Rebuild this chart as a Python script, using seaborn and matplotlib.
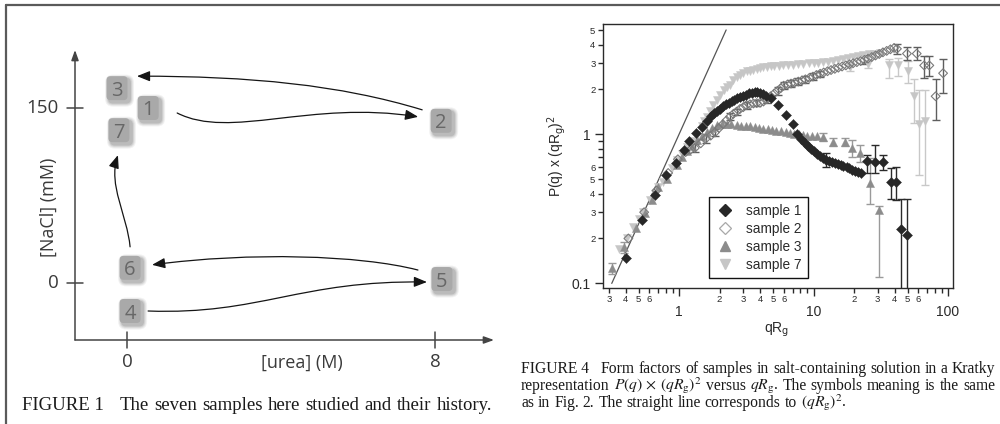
import numpy as np
import matplotlib
matplotlib.use("Agg")
import matplotlib.pyplot as plt
import seaborn as sns
from matplotlib.patches import FancyBboxPatch, FancyArrowPatch
from matplotlib.path import Path
from matplotlib.lines import Line2D
from matplotlib.ticker import LogLocator, FuncFormatter

# ---------------- data : FIGURE 1 (sample history diagram) ----------------
sample_ids = ["3", "1", "7", "2", "6", "5", "4"]
urea_M = [-0.26, 0.55, -0.21, 8.16, 0.08, 8.18, 0.08]
nacl_mM = [167, 150, 131, 139, 13, 3.4, -24]
history = [("2", "3"), ("1", "2"), ("6", "7"), ("5", "6"), ("4", "5")]
urea_ticks = [0, 8]
nacl_ticks = [0, 150]

# ---------------- data : FIGURE 4 (Kratky plot) ----------------
s1_x = [0.40, 0.53, 0.66, 0.80, 0.95, 1.08, 1.19, 1.34, 1.47, 1.61, 1.72, 1.82, 1.92, 2.02, 2.12,
        2.23, 2.34, 2.46, 2.58, 2.71, 2.85, 2.99, 3.14, 3.30, 3.47, 3.64, 3.82, 4.01, 4.21, 4.45,
        4.80, 5.47, 6.24, 7.00, 7.50, 8.10, 8.60, 9.10, 9.60, 10.1, 10.6, 11.2, 11.8, 12.4, 13.0,
        13.7, 14.4, 15.1, 15.9, 16.7, 17.6, 18.5, 19.4, 20.4, 21.4, 22.4, 24.9, 28.6, 33.0, 37.5,
        41.0, 44.6, 49.5]
s1_y = [0.149, 0.265, 0.39, 0.53, 0.645, 0.78, 0.90, 1.02, 1.12, 1.23, 1.33, 1.39, 1.44, 1.49, 1.54,
        1.59, 1.63, 1.67, 1.71, 1.75, 1.79, 1.82, 1.85, 1.88, 1.90, 1.91, 1.91, 1.89, 1.86, 1.82,
        1.74, 1.57, 1.35, 1.17, 1.00, 0.93, 0.88, 0.84, 0.80, 0.77, 0.74, 0.71, 0.69, 0.67, 0.66,
        0.65, 0.64, 0.63, 0.62, 0.61, 0.60, 0.59, 0.58, 0.57, 0.56, 0.55, 0.66, 0.65, 0.65, 0.48,
        0.48, 0.23, 0.21]
s1_err_x = [12.4, 24.9, 28.6, 33.0, 37.5, 41.0, 44.6, 49.5]
s1_err_y = [0.67, 0.66, 0.65, 0.65, 0.48, 0.48, 0.23, 0.21]
s1_err_lo = [0.60, 0.547, 0.547, 0.58, 0.37, 0.36, 0.08, 0.08]
s1_err_hi = [0.75, 0.726, 0.85, 0.73, 0.59, 0.60, 0.37, 0.37]

s2_x = [0.42, 0.55, 0.68, 0.83, 0.98, 1.12, 1.22, 1.31, 1.45, 1.59, 1.72, 1.85, 1.98, 2.12, 2.25,
        2.39, 2.53, 2.68, 2.84, 3.0, 3.18, 3.37, 3.57, 3.78, 4.0, 4.24, 4.5, 4.8, 5.1, 5.4,
        5.7, 6.0, 6.4, 6.8, 7.2, 7.7, 8.2, 8.7, 9.3, 9.9, 10.5, 11.2, 11.9, 12.7, 13.5,
        14.4, 15.3, 16.3, 17.4, 18.5, 19.7, 21.0, 22.4, 23.9, 25.4, 27.1, 28.9, 30.8, 32.8, 35.0,
        37.3, 39.7, 41.7, 49.5, 58.5, 66.5, 72.6, 80.9, 91.9]
s2_y = [0.20, 0.30, 0.42, 0.55, 0.68, 0.76, 0.79, 0.81, 0.87, 0.94, 0.98, 1.03, 1.10, 1.17, 1.24,
        1.31, 1.37, 1.42, 1.48, 1.52, 1.57, 1.59, 1.61, 1.62, 1.63, 1.66, 1.72, 1.80, 1.88, 1.96,
        2.04, 2.12, 2.16, 2.19, 2.22, 2.26, 2.30, 2.34, 2.39, 2.44, 2.50, 2.55, 2.60, 2.65, 2.70,
        2.75, 2.80, 2.85, 2.90, 2.95, 3.00, 3.05, 3.10, 3.16, 3.22, 3.30, 3.38, 3.46, 3.55, 3.63,
        3.72, 3.80, 3.75, 3.48, 3.48, 2.90, 2.90, 1.80, 2.57]
s2_err_x = [1.31, 1.59, 1.85, 2.39, 2.68, 3.18, 3.78, 4.5, 5.4, 6.0, 6.8, 7.7, 8.7, 9.9, 11.2,
            23.9, 41.7, 49.5, 58.5, 66.5, 72.6, 80.9, 91.9]
s2_err_y = [0.81, 0.94, 1.03, 1.31, 1.42, 1.57, 1.62, 1.72, 1.96, 2.12, 2.19, 2.26, 2.34, 2.44, 2.55,
            3.16, 3.75, 3.48, 3.48, 2.90, 2.90, 1.80, 2.57]
s2_err_lo = [0.76, 0.88, 0.97, 1.24, 1.35, 1.49, 1.54, 1.63, 1.85, 2.0, 2.07, 2.14, 2.22, 2.32, 2.43,
             2.95, 3.45, 3.16, 3.16, 2.40, 2.45, 1.25, 1.90]
s2_err_hi = [0.86, 1.00, 1.09, 1.38, 1.49, 1.65, 1.70, 1.81, 2.07, 2.24, 2.31, 2.38, 2.46, 2.56, 2.67,
             3.40, 4.05, 3.87, 3.87, 3.35, 3.35, 2.36, 3.20]

s3_x = [0.316, 0.39, 0.48, 0.56, 0.627, 0.70, 0.81, 0.96, 1.05, 1.14, 1.24, 1.35, 1.47, 1.61, 1.75,
        1.91, 2.08, 2.26, 2.45, 2.68, 2.90, 3.12, 3.37, 3.65, 3.95, 4.24, 4.60, 4.95, 5.30, 5.70,
        6.20, 6.70, 7.20, 7.80, 8.40, 9.00, 9.70, 10.6, 11.8, 14.0, 17.2, 19.2, 22.2, 26.3, 30.8]
s3_y = [0.126, 0.176, 0.234, 0.297, 0.36, 0.445, 0.50, 0.62, 0.70, 0.77, 0.84, 0.91, 0.98, 1.04, 1.10,
        1.15, 1.17, 1.18, 1.17, 1.15, 1.14, 1.13, 1.13, 1.12, 1.10, 1.09, 1.08, 1.07, 1.06, 1.05,
        1.04, 1.02, 1.01, 1.00, 0.99, 0.98, 0.98, 0.97, 0.96, 0.89, 0.89, 0.81, 0.75, 0.47, 0.31]
s3_err_x = [0.316, 0.39, 11.8, 14.0, 17.2, 19.2, 22.2, 26.3, 30.8]
s3_err_y = [0.126, 0.176, 0.96, 0.89, 0.89, 0.81, 0.75, 0.47, 0.31]
s3_err_lo = [0.115, 0.16, 0.90, 0.83, 0.83, 0.70, 0.65, 0.34, 0.11]
s3_err_hi = [0.136, 0.19, 1.02, 0.95, 0.95, 0.92, 0.85, 0.69, 0.33]

s7_x = [0.36, 0.41, 0.458, 0.50, 0.543, 0.61, 0.66, 0.70, 0.76, 0.81, 0.88, 0.96, 1.05, 1.14, 1.24,
        1.35, 1.47, 1.54, 1.61, 1.70, 1.80, 1.91, 2.02, 2.15, 2.26, 2.39, 2.53, 2.68, 2.84, 3.00,
        3.20, 3.37, 3.57, 3.80, 4.00, 4.24, 4.50, 4.80, 5.10, 5.50, 5.97, 6.50, 7.00, 7.60, 8.40,
        9.20, 10.0, 10.8, 11.8, 12.8, 14.0, 15.2, 16.6, 18.0, 18.7, 19.6, 21.4, 23.5, 25.2, 25.8,
        28.3, 31.2, 36.3, 42.7, 50.0, 55.8, 61.0, 67.5]
s7_y = [0.17, 0.20, 0.24, 0.27, 0.30, 0.36, 0.40, 0.445, 0.48, 0.52, 0.59, 0.67, 0.74, 0.82, 0.90,
        0.99, 1.14, 1.22, 1.31, 1.44, 1.57, 1.70, 1.83, 1.98, 2.07, 2.15, 2.30, 2.43, 2.52, 2.58,
        2.64, 2.68, 2.72, 2.76, 2.80, 2.82, 2.85, 2.86, 2.87, 2.88, 2.90, 2.92, 2.93, 2.95, 2.97,
        2.99, 3.00, 3.02, 3.05, 3.08, 3.12, 3.15, 3.20, 3.25, 2.85, 3.30, 3.35, 3.40, 2.97, 3.45,
        3.48, 3.50, 2.90, 2.90, 2.68, 1.80, 1.18, 1.22]
s7_err_x = [18.7, 25.2, 36.3, 42.7, 50.0, 55.8, 61.0, 67.5]
s7_err_y = [2.85, 2.97, 2.90, 2.90, 2.68, 1.80, 1.18, 1.22]
s7_err_lo = [2.65, 2.80, 2.40, 2.45, 2.20, 1.20, 0.53, 0.46]
s7_err_hi = [3.05, 3.15, 3.20, 3.25, 3.10, 2.35, 1.98, 1.98]

guinier_x = [0.316, 2.24]           # straight line (qRg)^2
legend_labels = ["sample 1", "sample 2", "sample 3", "sample 7"]

caption1 = ["FIGURE 1", "The", "seven", "samples", "here", "studied", "and", "their", "history."]
caption4 = [
    ["FIGURE 4", "Form", "factors", "of", "samples", "in", "salt-containing", "solution", "in", "a", "Kratky"],
    ["representation", r"$P(q)\,\times\,(qR_{\mathrm{g}})^2$", "versus", r"$qR_{\mathrm{g}}$.", "The",
     "symbols", "meaning", "is", "the", "same"],
    ["as", "in", "Fig.", "2.", "The", "straight", "line", "corresponds", "to", r"$(qR_{\mathrm{g}})^2$."],
]

# ---------------- figure ----------------
sns.set_style("white")
plt.rcParams["font.family"] = ["Liberation Sans", "DejaVu Sans"]
plt.rcParams["mathtext.fontset"] = "stix"

W, H = 1000, 424
fig = plt.figure(figsize=(W / 100, H / 100), dpi=100)
fig.patch.set_facecolor("white")

# page frame (top and left rules of the scan)
fig.add_artist(Line2D([6 / W, 1], [1 - 5 / H, 1 - 5 / H], color="#5a5a5a", lw=1.6, transform=fig.transFigure))
fig.add_artist(Line2D([6 / W, 6 / W], [0, 1 - 5 / H], color="#5a5a5a", lw=1.6, transform=fig.transFigure))

# ======== left panel ========
ax1 = fig.add_axes([0, 0, 0.5, 1])
PXX, PXY = 38.5, 1.1667          # pixels per data unit (x: M urea, y: mM NaCl)
X0PX, Y0PX = 127, 283            # pixel position of (0, 0)
ax1.set_xlim((0 - X0PX) / PXX, (500 - X0PX) / PXX)
ax1.set_ylim((Y0PX - 424) / PXY, (Y0PX - 0) / PXY)
ax1.axis("off")


def off(dx_px, dy_px):
    return dx_px / PXX, -dy_px / PXY


ax_org = ((75 - X0PX) / PXX, (Y0PX - 340) / PXY)
axis_kw = dict(arrowstyle="-|>,head_length=0.5,head_width=0.18", color="#444444", lw=1.1,
               shrinkA=0, shrinkB=0, mutation_scale=12)
ax1.annotate("", xy=(ax_org[0], (Y0PX - 50) / PXY), xytext=ax_org, arrowprops=axis_kw)
ax1.annotate("", xy=((494 - X0PX) / PXX, ax_org[1]), xytext=ax_org, arrowprops=axis_kw)

lfont = dict(family="Open Sans", color="#3a3a3a")
for t in nacl_ticks:
    ax1.plot([ax_org[0] - 8 / PXX, ax_org[0] + 8 / PXX], [t, t], color="#444444", lw=1.1)
    ax1.text(ax_org[0] - 16 / PXX, t, str(t), ha="right", va="center", fontsize=13.5, **lfont)
for t in urea_ticks:
    ax1.plot([t, t], [ax_org[1] + 8 / PXY, ax_org[1] - 8 / PXY], color="#444444", lw=1.1)
    ax1.text(t, ax_org[1] - 22 / PXY, str(t), ha="center", va="center", fontsize=13.5, **lfont)
ax1.text(4.55, ax_org[1] - 23 / PXY, "[urea] (M)", ha="center", va="center", fontsize=13, **lfont)
ax1.text((49 - X0PX) / PXX, 65, "[NaCl] (mM)", ha="center", va="center", rotation=90,
         fontsize=13, **lfont)

pos = {s: (u, n) for s, u, n in zip(sample_ids, urea_M, nacl_mM)}
BW, BH = 21 / PXX, 24 / PXY
aspect = PXX / PXY
for s, (u, n) in pos.items():
    for k, a in [(4, 0.05), (3, 0.06), (2, 0.08), (1, 0.10)]:
        sx, sy = off(2.5, 2.5)
        e = k / PXX
        ax1.add_patch(FancyBboxPatch((u - BW / 2 + sx - e, n - BH / 2 + sy - k / PXY), BW + 2 * e,
                                     BH + 2 * k / PXY, boxstyle="round,pad=0,rounding_size=%.3f" % ((4 + k) / PXX),
                                     mutation_aspect=aspect, fc="black", ec="none", alpha=a, zorder=2))
    ax1.add_patch(FancyBboxPatch((u - BW / 2, n - BH / 2), BW, BH,
                                 boxstyle="round,pad=0,rounding_size=%.3f" % (4 / PXX),
                                 mutation_aspect=aspect, fc="#a9a9a9", ec="none", zorder=3))
    ax1.text(u, n - 7.5 / PXY, s, ha="center", va="baseline", fontsize=14.5, color="#676767",
             family="Open Sans", zorder=4)

arrow_shape = {
    ("2", "3"): ((-19, -11), (20, -12), (-82, -25), (113, 0)),
    ("1", "2"): ((29, 5), (-23, -4), (53, 27), (-108, -17)),
    ("6", "7"): ((0, -21), (-1, 25), (-3, -32), (-10, 30)),
    ("5", "6"): ((-24, -9), (22, -3), (-58, -15), (98, -13)),
    ("4", "5"): ((18, 0), (-15, 3), (112, 4), (-127, -2)),
}
for a, b in history:
    so, eo, c1, c2 = arrow_shape[(a, b)]
    p0 = np.add(pos[a], off(*so))
    p3 = np.add(pos[b], off(*eo))
    p1 = p0 + np.array(off(*c1))
    p2 = p3 + np.array(off(*c2))
    path = Path([p0, p1, p2, p3], [Path.MOVETO, Path.CURVE4, Path.CURVE4, Path.CURVE4])
    ax1.add_patch(FancyArrowPatch(path=path, arrowstyle="-|>,head_length=0.6,head_width=0.24",
                                  mutation_scale=13, color="#151515", lw=0.9, zorder=5))

# ======== right panel ========
L, R, T, B = 603, 953, 24, 288
ax2 = fig.add_axes([L / W, 1 - B / H, (R - L) / W, (B - T) / H])
ax2.set_xscale("log")
ax2.set_yscale("log")
ax2.set_xlim(0.272, 108.9)
ax2.set_ylim(0.093, 5.5)

sns.lineplot(x=guinier_x, y=[v ** 2 for v in guinier_x], ax=ax2, color="#555555", lw=0.9, zorder=1)

c1, c2, c3, c7 = "#272727", "#7a7a7a", "#8c8c8c", "#c6c6c6"
eb = dict(fmt="none", elinewidth=1.0, capsize=2.6, capthick=1.0)
ax2.errorbar(s7_err_x, s7_err_y, yerr=[np.subtract(s7_err_y, s7_err_lo), np.subtract(s7_err_hi, s7_err_y)],
             ecolor="#c8c8c8", zorder=2, **eb)
ax2.errorbar(s3_err_x, s3_err_y, yerr=[np.subtract(s3_err_y, s3_err_lo), np.subtract(s3_err_hi, s3_err_y)],
             ecolor="#9a9a9a", zorder=2, **eb)
ax2.errorbar(s2_err_x, s2_err_y, yerr=[np.subtract(s2_err_y, s2_err_lo), np.subtract(s2_err_hi, s2_err_y)],
             ecolor="#5e5e5e", zorder=2, **eb)
ax2.errorbar(s1_err_x, s1_err_y, yerr=[np.subtract(s1_err_y, s1_err_lo), np.subtract(s1_err_hi, s1_err_y)],
             ecolor="#2a2a2a", zorder=2, **eb)

sns.scatterplot(x=s7_x, y=s7_y, ax=ax2, marker="v", s=34, color=c7, edgecolor=c7, linewidth=0.3, zorder=3)
sns.scatterplot(x=s3_x, y=s3_y, ax=ax2, marker="^", s=34, color=c3, edgecolor=c3, linewidth=0.3, zorder=4)
sns.scatterplot(x=s2_x, y=s2_y, ax=ax2, marker="D", s=20, color=c2, edgecolor=c2, linewidth=0.8, zorder=5)
ax2.collections[-1].set_facecolor("none")
sns.scatterplot(x=s1_x, y=s1_y, ax=ax2, marker="D", s=26, color=c1, edgecolor=c1, linewidth=0.3, zorder=6)

for sp in ax2.spines.values():
    sp.set_visible(True)
    sp.set_color("#2a2a2a")
    sp.set_linewidth(1.0)

ax2.xaxis.set_major_locator(LogLocator(base=10, numticks=10))
ax2.yaxis.set_major_locator(LogLocator(base=10, numticks=10))
ax2.xaxis.set_minor_locator(LogLocator(base=10, subs=np.arange(2, 10), numticks=20))
ax2.yaxis.set_minor_locator(LogLocator(base=10, subs=np.arange(2, 10), numticks=20))


def major_fmt(v, p):
    return "%g" % v


def minor_fmt(v, p):
    d = int(round(v / 10 ** np.floor(np.log10(v) + 1e-9)))
    return str(d) if 2 <= d <= 6 else ""


for axis in (ax2.xaxis, ax2.yaxis):
    axis.set_major_formatter(FuncFormatter(major_fmt))
    axis.set_minor_formatter(FuncFormatter(minor_fmt))
ax2.tick_params(which="both", direction="out", color="#2a2a2a", labelcolor="#2a2a2a", width=1.0,
                bottom=True, left=True, top=False, right=False)
ax2.tick_params(which="major", length=6, labelsize=10)
ax2.tick_params(which="minor", length=3.5, labelsize=6.8)
ax2.tick_params(axis="x", which="major", pad=6.5)
ax2.tick_params(axis="x", which="minor", pad=1.5)
ax2.tick_params(axis="y", which="major", pad=3)
ax2.tick_params(axis="y", which="minor", pad=2)

ax2.set_ylabel(r"P(q) x (qR$_{\mathrm{g}}$)$^2$", fontsize=10, color="#2a2a2a", math_fontfamily="dejavusans")
ax2.yaxis.set_label_coords((568 - L) / (R - L), 0.5)
ax2.set_xlabel(r"qR$_{\mathrm{g}}$", fontsize=10, color="#2a2a2a", math_fontfamily="dejavusans")
ax2.xaxis.set_label_coords((777 - L) / (R - L), (B - 321) / (B - T))

handles = [
    Line2D([], [], ls="none", marker="D", ms=6, color=c1),
    Line2D([], [], ls="none", marker="D", ms=6, mfc="none", mec="#a8a8a8", mew=0.9),
    Line2D([], [], ls="none", marker="^", ms=7, color=c3),
    Line2D([], [], ls="none", marker="v", ms=7, color=c7),
]
leg = ax2.legend(handles, legend_labels, loc="lower left", bbox_to_anchor=((709 - L) / (R - L), (B - 278) / (B - T)),
                 borderaxespad=0, frameon=True, fancybox=False, edgecolor="#111111", framealpha=1,
                 fontsize=9.8, handlelength=1.4, handletextpad=0.9, labelspacing=0.3, borderpad=0.45)
leg.get_frame().set_linewidth(1.0)
for t in leg.get_texts():
    t.set_color("#2a2a2a")

# ======== captions (justified serif text) ========
cap_kw = dict(family="Liberation Serif", color="#1a1a1a", math_fontfamily="stix", va="baseline")
fig.canvas.draw()
renderer = fig.canvas.get_renderer()


def set_line(words, x0, x1, ybase, size, first_gap=1.0, justify=True):
    texts = [fig.text(0, 1 - ybase / H, w, fontsize=size, **cap_kw) for w in words]
    widths = [t.get_window_extent(renderer).width for t in texts]
    n = len(words)
    weights = [first_gap] + [1.0] * (n - 2)
    space = size * 100 / 72 * 0.25
    if justify:
        unit = ((x1 - x0) - sum(widths)) / sum(weights)
    else:
        unit = space
    x = x0
    for i, (t, w) in enumerate(zip(texts, widths)):
        t.set_x(x / W)
        if i < n - 1:
            x += w + unit * weights[i]


def fit_size(words, width, first_gap, s0=10.0):
    probe = [fig.text(0, 0, w, fontsize=s0, **cap_kw) for w in words]
    tot = sum(t.get_window_extent(renderer).width for t in probe)
    for t in probe:
        t.remove()
    space = s0 * 100 / 72 * 0.25
    tot += space * (first_gap + len(words) - 2)
    return s0 * width / tot


size1 = fit_size(caption1, 470, 3.0) * 0.99
set_line(caption1, 22, 492, 410, size1, first_gap=3.0)
size4 = fit_size(caption4[0], 474, 3.0) * 1.0
set_line(caption4[0], 521, 995, 373, size4, first_gap=3.0)
set_line(caption4[1], 521, 995, 390, size4)
set_line(caption4[2], 521, 995, 407, size4, justify=False)

fig.savefig("out.png", dpi=100, facecolor="white")
